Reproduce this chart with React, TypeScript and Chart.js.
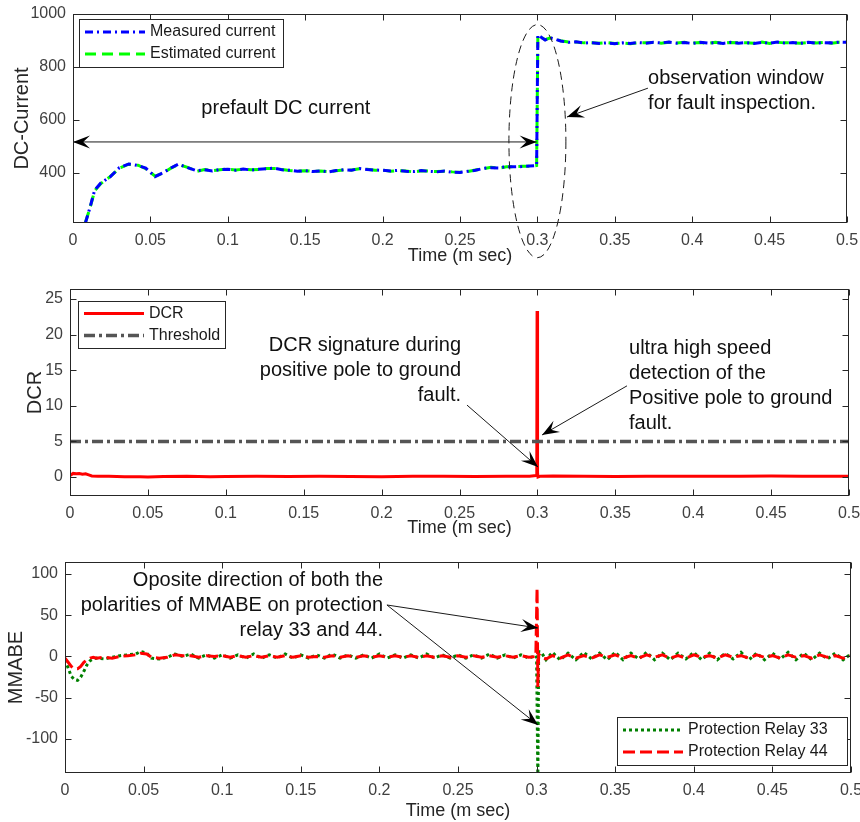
import React, { useEffect, useRef } from 'react';
import { Chart, registerables } from 'chart.js';
Chart.register(...registerables);

const FONT = '"Liberation Sans", Arial, Helvetica, sans-serif';
const AXIS = '#262626';
const TICK_TEXT = '#404040';

// ---------- tick labels ----------
const timeTicks = [0, 0.05, 0.1, 0.15, 0.2, 0.25, 0.3, 0.35, 0.4, 0.45, 0.5];
const currentTicks = [400, 600, 800, 1000];
const dcrTicks = [0, 5, 10, 15, 20, 25];
const mmabeTicks = [-100, -50, 0, 50, 100];

// ---------- panel 1: DC current ----------
const measuredCurrent: [number, number][] = [
  [0.008, 211], [0.011, 270], [0.014, 335], [0.018, 362], [0.024, 385], [0.030, 420], [0.036, 434],
  [0.042, 428], [0.047, 418], [0.053, 386], [0.058, 400], [0.063, 418], [0.068, 433], [0.074, 420],
  [0.080, 408], [0.085, 412], [0.090, 407], [0.095, 413], [0.100, 414], [0.105, 410], [0.110, 415],
  [0.115, 411], [0.120, 414], [0.125, 416], [0.130, 418], [0.135, 412], [0.140, 410], [0.145, 406],
  [0.150, 409], [0.155, 405], [0.160, 408], [0.165, 404], [0.170, 409], [0.175, 412], [0.180, 410],
  [0.185, 417], [0.190, 413], [0.195, 411], [0.200, 410], [0.205, 407], [0.210, 410], [0.215, 406],
  [0.220, 405], [0.225, 409], [0.230, 406], [0.235, 404], [0.240, 407], [0.245, 403], [0.250, 402],
  [0.255, 406], [0.260, 410], [0.265, 417], [0.270, 420], [0.275, 419], [0.280, 424], [0.285, 423],
  [0.290, 424], [0.295, 426], [0.2995, 428], [0.3003, 921], [0.302, 914], [0.305, 902], [0.308, 910],
  [0.311, 906], [0.315, 898], [0.320, 893], [0.325, 895], [0.330, 890], [0.335, 892], [0.340, 889],
  [0.345, 891], [0.350, 888], [0.355, 891], [0.360, 889], [0.365, 892], [0.370, 890], [0.375, 893],
  [0.380, 891], [0.385, 894], [0.390, 890], [0.395, 892], [0.400, 889], [0.405, 893], [0.410, 890],
  [0.415, 892], [0.420, 889], [0.425, 893], [0.430, 890], [0.435, 892], [0.440, 889], [0.445, 893],
  [0.450, 890], [0.455, 894], [0.460, 890], [0.465, 892], [0.470, 889], [0.475, 893], [0.480, 890],
  [0.485, 892], [0.490, 891], [0.495, 894], [0.500, 893],
];
const estimatedCurrent: [number, number][] = [
  [0.008, 213], [0.011, 268], [0.014, 333], [0.018, 360], [0.024, 386], [0.030, 418], [0.036, 433],
  [0.042, 429], [0.047, 416], [0.053, 388], [0.058, 399], [0.063, 417], [0.068, 432], [0.074, 421],
  [0.080, 406], [0.085, 413], [0.090, 408], [0.095, 412], [0.100, 415], [0.105, 411], [0.110, 414],
  [0.115, 412], [0.120, 413], [0.125, 417], [0.130, 417], [0.135, 413], [0.140, 409], [0.145, 407],
  [0.150, 408], [0.155, 406], [0.160, 407], [0.165, 405], [0.170, 408], [0.175, 411], [0.180, 411],
  [0.185, 416], [0.190, 414], [0.195, 410], [0.200, 411], [0.205, 406], [0.210, 409], [0.215, 407],
  [0.220, 404], [0.225, 408], [0.230, 407], [0.235, 405], [0.240, 406], [0.245, 404], [0.250, 403],
  [0.255, 405], [0.260, 411], [0.265, 416], [0.270, 421], [0.275, 418], [0.280, 423], [0.285, 424],
  [0.290, 425], [0.295, 425], [0.2995, 428], [0.3003, 919], [0.302, 913], [0.305, 903], [0.308, 909],
  [0.311, 907], [0.315, 899], [0.320, 894], [0.325, 894], [0.330, 891], [0.335, 891], [0.340, 890],
  [0.345, 892], [0.350, 889], [0.355, 890], [0.360, 888], [0.365, 891], [0.370, 891], [0.375, 892],
  [0.380, 890], [0.385, 893], [0.390, 891], [0.395, 893], [0.400, 890], [0.405, 892], [0.410, 889],
  [0.415, 893], [0.420, 890], [0.425, 892], [0.430, 891], [0.435, 891], [0.440, 890], [0.445, 894],
  [0.450, 889], [0.455, 893], [0.460, 891], [0.465, 891], [0.470, 890], [0.475, 892], [0.480, 891],
  [0.485, 893], [0.490, 890], [0.495, 893], [0.500, 894],
];

// ---------- panel 2: DCR ----------
const dcrValues: [number, number][] = [
  [0, 0.2], [0.002, 0.5], [0.004, 0.45], [0.006, 0.5], [0.008, 0.4], [0.010, 0.45], [0.012, 0.3],
  [0.014, 0.15], [0.018, 0.1], [0.025, 0.12], [0.035, 0.05], [0.045, 0.02], [0.05, 0.0], [0.06, 0.06],
  [0.075, 0.1], [0.09, 0.05], [0.1, 0.08], [0.12, 0.1], [0.14, 0.06], [0.16, 0.1], [0.18, 0.08],
  [0.2, 0.05], [0.22, 0.1], [0.24, 0.12], [0.26, 0.08], [0.28, 0.1], [0.295, 0.12], [0.2993, 0.2],
  [0.2996, 0.7], [0.2998, 23.3], [0.3001, 0.6], [0.3004, 0.0], [0.302, 0.12], [0.31, 0.15],
  [0.33, 0.1], [0.35, 0.08], [0.37, 0.12], [0.39, 0.1], [0.41, 0.12], [0.43, 0.1], [0.45, 0.13],
  [0.47, 0.1], [0.49, 0.12], [0.5, 0.1],
];
const thresholdValues: [number, number][] = [[0, 5], [0.5, 5]];

// ---------- panel 3: MMABE ----------
const relay33: [number, number][] = [
  [0, -4], [0.002, -14], [0.004, -24], [0.006, -28], [0.008, -29], [0.010, -25], [0.012, -18],
  [0.014, -10], [0.016, -5], [0.018, -3], [0.020, -2], [0.025, -3], [0.030, -1], [0.035, 1],
  [0.040, 2], [0.045, 3], [0.048, 6], [0.052, 4], [0.055, -2], [0.060, -3], [0.065, -1], [0.070, 3],
  [0.075, 0], [0.080, 3], [0.085, -2], [0.090, 2], [0.095, -2], [0.100, 2], [0.105, -2], [0.110, 2],
  [0.115, -2], [0.120, 3], [0.125, -2], [0.130, 2], [0.135, -2], [0.140, 3], [0.145, -2], [0.150, 2],
  [0.155, -2], [0.160, 2], [0.165, -2], [0.170, 3], [0.175, -2], [0.180, 2], [0.185, -2], [0.190, 2],
  [0.195, -2], [0.200, 3], [0.205, -2], [0.210, 2], [0.215, -2], [0.220, 2], [0.225, -2], [0.230, 3],
  [0.235, -2], [0.240, 2], [0.245, -2], [0.250, 2], [0.255, -2], [0.260, 2], [0.265, -2], [0.270, 3],
  [0.275, -2], [0.280, 2], [0.285, -2], [0.290, 2], [0.295, -2], [0.2995, 1], [0.3000, -1],
  [0.3008, -150], [0.3013, 6], [0.303, 5], [0.306, -4], [0.310, 5], [0.315, -4], [0.320, 4],
  [0.325, -4], [0.330, 5], [0.335, -3], [0.340, 4], [0.345, -4], [0.350, 5], [0.355, -4], [0.360, 4],
  [0.365, -3], [0.370, 5], [0.375, -4], [0.380, 4], [0.385, -4], [0.390, 4], [0.395, -3], [0.400, 5],
  [0.405, -4], [0.410, 4], [0.415, -4], [0.420, 4], [0.425, -3], [0.430, 5], [0.435, -4], [0.440, 4],
  [0.445, -4], [0.450, 4], [0.455, -3], [0.460, 5], [0.465, -4], [0.470, 4], [0.475, -4], [0.480, 4],
  [0.485, -3], [0.490, 4], [0.495, -4], [0.500, 3],
];
const relay44: [number, number][] = [
  [0, -2], [0.002, -7], [0.004, -12], [0.006, -15], [0.008, -15], [0.010, -12], [0.012, -7],
  [0.014, -4], [0.016, -2], [0.018, -1], [0.020, -2], [0.025, -1], [0.030, -2], [0.035, 0],
  [0.040, 1], [0.045, 2], [0.048, 4], [0.052, 3], [0.055, -1], [0.060, -2], [0.065, -1], [0.070, 2],
  [0.075, 1], [0.080, 1], [0.085, -1], [0.090, 1], [0.095, 0], [0.100, 1], [0.105, -1], [0.110, 1],
  [0.115, -1], [0.120, 1], [0.125, -1], [0.130, 1], [0.135, -1], [0.140, 1], [0.145, -1], [0.150, 1],
  [0.155, -1], [0.160, 0], [0.165, -1], [0.170, 1], [0.175, -1], [0.180, 1], [0.185, -1], [0.190, 1],
  [0.195, -1], [0.200, 1], [0.205, -1], [0.210, 1], [0.215, -1], [0.220, 1], [0.225, -1], [0.230, 1],
  [0.235, -1], [0.240, 1], [0.245, -1], [0.250, 1], [0.255, -1], [0.260, 1], [0.265, -1], [0.270, 1],
  [0.275, -1], [0.280, 1], [0.285, -1], [0.290, 1], [0.295, -1], [0.2995, 0], [0.3003, 83],
  [0.3008, -37], [0.3013, 3], [0.303, -1], [0.306, -3], [0.310, 1], [0.315, -2], [0.320, 2],
  [0.325, -2], [0.330, 1], [0.335, -2], [0.340, 2], [0.345, -1], [0.350, 2], [0.355, -2], [0.360, 1],
  [0.365, -2], [0.370, 2], [0.375, -1], [0.380, 2], [0.385, -2], [0.390, 1], [0.395, -2], [0.400, 2],
  [0.405, -1], [0.410, 1], [0.415, -2], [0.420, 2], [0.425, -1], [0.430, 1], [0.435, -2], [0.440, 2],
  [0.445, -1], [0.450, 1], [0.455, -2], [0.460, 2], [0.465, -1], [0.470, 1], [0.475, -2], [0.480, 2],
  [0.485, -1], [0.490, 1], [0.495, -2], [0.500, 1],
];

// ---------- helpers ----------
type Series = { label: string; data: [number, number][]; color: string; width: number; dash: number[]; order: number };

const toDataset = (s: Series) => ({
  label: s.label,
  data: s.data.map(([x, y]) => ({ x, y })),
  borderColor: s.color,
  borderWidth: s.width,
  borderDash: s.dash,
  pointRadius: 0,
  fill: false,
  tension: 0,
  order: s.order,
  clip: 0,
});

function arrowHead(ctx: CanvasRenderingContext2D, x1: number, y1: number, x2: number, y2: number) {
  const L = 17, W = 6.5;
  const a = Math.atan2(y2 - y1, x2 - x1);
  ctx.save();
  ctx.translate(x2, y2);
  ctx.rotate(a);
  ctx.beginPath();
  ctx.moveTo(0, 0);
  ctx.lineTo(-L, W);
  ctx.lineTo(-L * 0.6, 0);
  ctx.lineTo(-L, -W);
  ctx.closePath();
  ctx.fill();
  ctx.restore();
}

function arrow(ctx: CanvasRenderingContext2D, x1: number, y1: number, x2: number, y2: number, both = false) {
  ctx.save();
  ctx.strokeStyle = '#1a1a1a';
  ctx.fillStyle = '#000';
  ctx.lineWidth = 1;
  ctx.setLineDash([]);
  ctx.beginPath();
  ctx.moveTo(x1, y1);
  ctx.lineTo(x2, y2);
  ctx.stroke();
  arrowHead(ctx, x1, y1, x2, y2);
  if (both) arrowHead(ctx, x2, y2, x1, y1);
  ctx.restore();
}

function textLines(ctx: CanvasRenderingContext2D, lines: string[], x: number, y: number, align: CanvasTextAlign) {
  ctx.save();
  ctx.font = `20px ${FONT}`;
  ctx.fillStyle = '#111';
  ctx.textAlign = align;
  ctx.textBaseline = 'middle';
  lines.forEach((l, i) => ctx.fillText(l, x, y + i * 25));
  ctx.restore();
}

type Legend = { corner: 'tl' | 'br'; dx: number; dy: number; w: number; h: number };
type Panel = {
  top: number;
  height: number;
  pad: { left: number; right: number; top: number; bottom: number };
  yWidth: number;
  xHeight: number;
  xTitlePad: number;
  yMin: number;
  yMax: number;
  yTicks: number[];
  yTitle: string;
  series: Series[];
  legend: Legend;
  annotate: (ctx: CanvasRenderingContext2D, X: (v: number) => number, Y: (v: number) => number) => void;
};

const panels: Panel[] = [
  {
    top: 0, height: 275,
    pad: { left: 6, right: 13, top: 14, bottom: 6 },
    yWidth: 67, xHeight: 46, xTitlePad: 2,
    yMin: 211, yMax: 1000, yTicks: currentTicks, yTitle: 'DC-Current',
    series: [
      { label: 'Measured current', data: measuredCurrent, color: '#0000ff', width: 3, dash: [8, 4, 2, 4], order: 0 },
      { label: 'Estimated current', data: estimatedCurrent, color: '#00ff00', width: 3, dash: [11, 6], order: 1 },
    ],
    legend: { corner: 'tl', dx: 6, dy: 5, w: 204, h: 48 },
    annotate: (ctx, X, Y) => {
      arrow(ctx, X(0), Y(517), X(0.2995), Y(517), true);
      textLines(ctx, ['prefault DC current'], X(0.1375), Y(645), 'center');
      // observation window ellipse
      ctx.save();
      ctx.strokeStyle = '#1a1a1a';
      ctx.lineWidth = 1;
      ctx.setLineDash([8, 5]);
      ctx.beginPath();
      const cx = X(0.3), cy = Y(520);
      ctx.ellipse(cx, cy, X(0.3184) - cx, cy - Y(960), 0, 0, Math.PI * 2);
      ctx.stroke();
      ctx.restore();
      textLines(ctx, ['observation window', 'for fault inspection.'], X(0.3715), Y(758), 'left');
      arrow(ctx, X(0.3714), Y(720), X(0.3191), Y(611));
    },
  },
  {
    top: 275, height: 273,
    pad: { left: 19, right: 11, top: 14, bottom: 6 },
    yWidth: 51, xHeight: 46, xTitlePad: 3,
    yMin: -2.67, yMax: 26.4, yTicks: dcrTicks, yTitle: 'DCR',
    series: [
      { label: 'DCR', data: dcrValues, color: '#ff0000', width: 3, dash: [], order: 1 },
      { label: 'Threshold', data: thresholdValues, color: '#555555', width: 3.5, dash: [11, 4, 3, 4], order: 0 },
    ],
    legend: { corner: 'tl', dx: 8, dy: 12, w: 147, h: 47 },
    annotate: (ctx, X, Y) => {
      textLines(ctx, ['DCR signature during', 'positive pole to ground', 'fault.'], X(0.251), Y(18.5), 'right');
      arrow(ctx, X(0.2548), Y(10.1), X(0.3004), Y(1.4));
      textLines(ctx, ['ultra high speed', 'detection of the', 'Positive pole to ground', 'fault.'], X(0.3588), Y(18.0), 'left');
      arrow(ctx, X(0.3575), Y(12.8), X(0.303), Y(5.9));
    },
  },
  {
    top: 548, height: 274,
    pad: { left: 0, right: 9, top: 14, bottom: 0 },
    yWidth: 65, xHeight: 49, xTitlePad: 0,
    yMin: -141.2, yMax: 114.5, yTicks: mmabeTicks, yTitle: 'MMABE',
    series: [
      { label: 'Protection Relay 33', data: relay33, color: '#008000', width: 3, dash: [3, 3], order: 1 },
      { label: 'Protection Relay 44', data: relay44, color: '#ff0000', width: 3, dash: [12, 5], order: 0 },
    ],
    legend: { corner: 'br', dx: 4, dy: 8, w: 230, h: 48 },
    annotate: (ctx, X, Y) => {
      textLines(ctx, ['Oposite direction of both the', 'polarities of MMABE on protection', 'relay 33 and 44.'], X(0.2023), Y(92.7), 'right');
      arrow(ctx, X(0.2048), Y(62.4), X(0.3009), Y(34.5));
      arrow(ctx, X(0.2048), Y(62.4), X(0.3009), Y(-83));
    },
  },
];

function ChartPanel({ p }: { p: Panel }) {
  const ref = useRef<HTMLCanvasElement>(null);
  useEffect(() => {
    const deco = {
      id: 'matlabDeco',
      afterDraw(chart: any) {
        const { ctx, chartArea: a, scales } = chart;
        const xs = scales.x, ys = scales.y;
        ctx.save();
        // annotations
        p.annotate(ctx, (v) => xs.getPixelForValue(v), (v) => ys.getPixelForValue(v));
        // frame
        ctx.strokeStyle = AXIS;
        ctx.lineWidth = 1;
        ctx.setLineDash([]);
        const L = Math.round(a.left) + 0.5, T = Math.round(a.top) + 0.5;
        const R = Math.round(a.right) - 0.5, B = Math.round(a.bottom) - 0.5;
        ctx.strokeRect(L, T, R - L, B - T);
        // inward ticks
        ctx.beginPath();
        timeTicks.forEach((v) => {
          const x = Math.round(xs.getPixelForValue(v)) + 0.5;
          ctx.moveTo(x, B); ctx.lineTo(x, B - 6);
          ctx.moveTo(x, T); ctx.lineTo(x, T + 6);
        });
        p.yTicks.forEach((v) => {
          const y = Math.round(ys.getPixelForValue(v)) + 0.5;
          ctx.moveTo(L, y); ctx.lineTo(L + 6, y);
          ctx.moveTo(R, y); ctx.lineTo(R - 6, y);
        });
        ctx.stroke();
        // legend
        const lg = p.legend;
        const left = Math.round(lg.corner === 'tl' ? a.left + lg.dx : a.right - lg.dx - lg.w);
        const top = Math.round(lg.corner === 'tl' ? a.top + lg.dy : a.bottom - lg.dy - lg.h);
        ctx.fillStyle = '#fff';
        ctx.fillRect(left, top, lg.w, lg.h);
        ctx.strokeStyle = AXIS;
        ctx.strokeRect(left + 0.5, top + 0.5, lg.w, lg.h);
        p.series.forEach((s, i) => {
          const cy = top + lg.h / 2 + (i === 0 ? -11 : 11);
          ctx.strokeStyle = s.color;
          ctx.lineWidth = s.width;
          ctx.setLineDash(s.dash);
          ctx.beginPath();
          ctx.moveTo(left + 6, cy);
          ctx.lineTo(left + 66, cy);
          ctx.stroke();
          ctx.setLineDash([]);
          ctx.fillStyle = '#1a1a1a';
          ctx.font = `16px ${FONT}`;
          ctx.textAlign = 'left';
          ctx.textBaseline = 'middle';
          ctx.fillText(s.label, left + 71, cy);
        });
        ctx.restore();
      },
    };

    const chart = new Chart(ref.current as HTMLCanvasElement, {
      type: 'line',
      data: { datasets: p.series.map(toDataset) as any },
      options: {
        responsive: false,
        animation: false,
        devicePixelRatio: 1,
        events: [],
        layout: { padding: p.pad },
        plugins: { legend: { display: false }, tooltip: { enabled: false } },
        scales: {
          x: {
            type: 'linear',
            min: 0,
            max: 0.5,
            grid: { display: false, drawTicks: false },
            border: { display: false },
            afterBuildTicks: (s: any) => { s.ticks = timeTicks.map((v) => ({ value: v })); },
            afterFit: (s: any) => { s.height = p.xHeight; s.paddingLeft = 0; s.paddingRight = 0; },
            ticks: {
              font: { size: 16, family: FONT },
              color: TICK_TEXT,
              padding: 8,
              maxRotation: 0,
              autoSkip: false,
              callback: (v: any) => String(v),
            },
            title: {
              display: true,
              text: 'Time (m sec)',
              font: { size: 18, family: FONT },
              color: AXIS,
              padding: { top: 0, bottom: p.xTitlePad },
            },
          },
          y: {
            type: 'linear',
            min: p.yMin,
            max: p.yMax,
            grid: { display: false, drawTicks: false },
            border: { display: false },
            afterBuildTicks: (s: any) => { s.ticks = p.yTicks.map((v) => ({ value: v })); },
            afterFit: (s: any) => { s.width = p.yWidth; s.paddingTop = 0; s.paddingBottom = 0; },
            ticks: {
              font: { size: 16, family: FONT },
              color: TICK_TEXT,
              padding: 7,
              autoSkip: false,
              callback: (v: any) => String(v),
            },
            title: {
              display: true,
              text: p.yTitle,
              font: { size: 20, family: FONT },
              color: AXIS,
              padding: { top: 4, bottom: 0 },
            },
          },
        },
      } as any,
      plugins: [deco],
    });
    return () => chart.destroy();
  }, []);
  return (
    <canvas
      ref={ref}
      width={860}
      height={p.height}
      style={{ position: 'absolute', left: 0, top: p.top, width: 860, height: p.height }}
    />
  );
}

export default function App() {
  return (
    <div style={{ position: 'absolute', left: 0, top: 0, width: 860, height: 822, background: '#fff', overflow: 'hidden' }}>
      {panels.map((p, i) => (
        <ChartPanel key={i} p={p} />
      ))}
    </div>
  );
}
